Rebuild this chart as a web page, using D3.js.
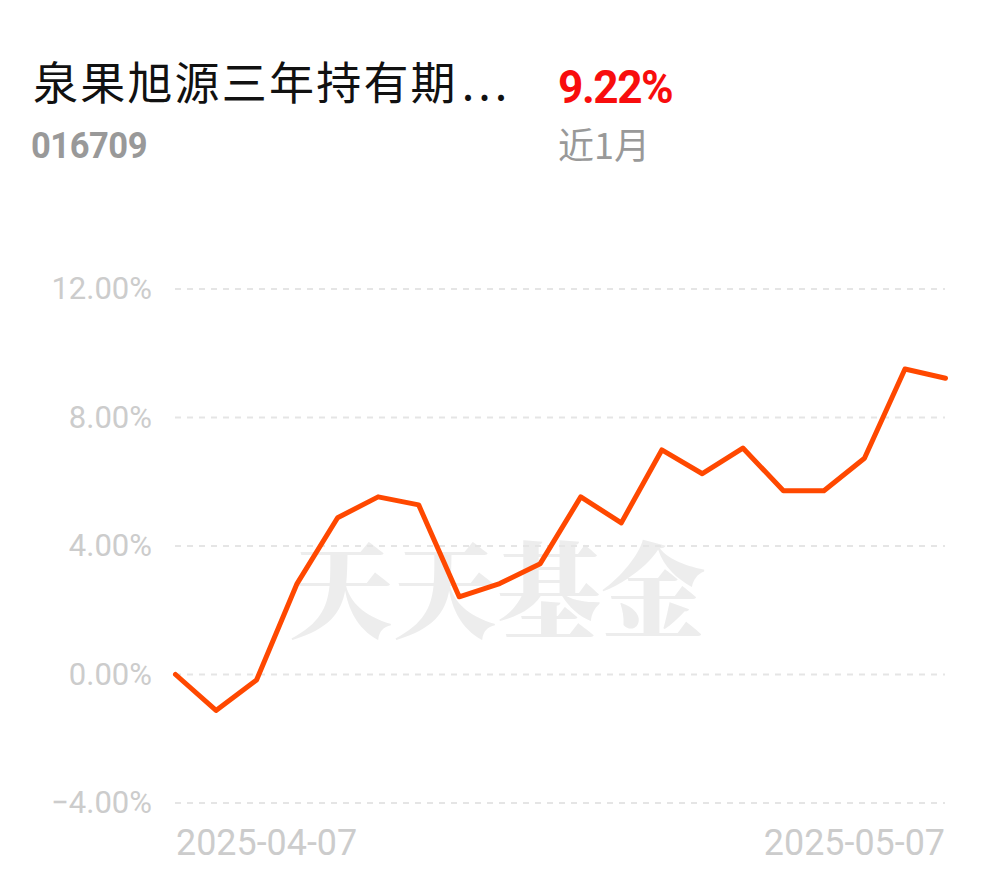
<!DOCTYPE html>
<html><head><meta charset="utf-8">
<script src="https://cdn.jsdelivr.net/npm/d3@7/dist/d3.min.js"></script>
<style>body{margin:0;background:#fff;}svg{display:block;}</style>
</head><body>
<script>
const fundName = "泉果旭源三年持有期";
const fundNameEllipsis = "...";
const fundCode = "016709";
const periodReturn = "9.22%";
const periodLabel = "近1月";
const dates = ["2025-04-07","2025-04-08","2025-04-09","2025-04-10","2025-04-11","2025-04-14","2025-04-15","2025-04-16","2025-04-17","2025-04-18","2025-04-21","2025-04-22","2025-04-23","2025-04-24","2025-04-25","2025-04-28","2025-04-29","2025-04-30","2025-05-06","2025-05-07"];
const values = [0, -1.12, -0.17, 2.83, 4.88, 5.53, 5.28, 2.42, 2.83, 3.45, 5.53, 4.72, 6.99, 6.25, 7.05, 5.72, 5.72, 6.73, 9.51, 9.22];
const yTicks = [-4, 0, 4, 8, 12];
const xTickLabels = ["2025-04-07", "2025-05-07"];

const W = 990, H = 878;
const svg = d3.select("body").append("svg").attr("width", W).attr("height", H);

// header
const title = svg.append("text").attr("x", 33).attr("y", 100).attr("font-family", "Noto Sans CJK SC").attr("font-size", 45).attr("fill", "#111");
title.append("tspan").attr("letter-spacing", 2.2).text(fundName);
title.append("tspan").attr("letter-spacing", 4).attr("dx", 4).text(fundNameEllipsis);
svg.append("text").attr("transform", "translate(558,103) scale(0.96,1)").attr("font-family", "Roboto").attr("font-weight", 700).attr("font-size", 46).attr("fill", "#f80d0d").attr("letter-spacing", -1.5).text(periodReturn);
svg.append("text").attr("transform", "translate(31,158) scale(0.96,1)").attr("font-family", "Roboto").attr("font-weight", 700).attr("font-size", 36).attr("fill", "#999").attr("letter-spacing", -0.5).text(fundCode);
svg.append("text").attr("x", 558).attr("y", 159).attr("font-family", "Noto Sans CJK SC").attr("font-size", 36).attr("fill", "#999").text(periodLabel);

const x = d3.scalePoint().domain(dates).range([175.5, 945.5]);
const y = d3.scaleLinear().domain([-4, 12]).range([803, 289]);

// watermark
svg.append("text").attr("x", 497).attr("y", 630).attr("text-anchor", "middle").attr("font-family", "Noto Serif CJK SC, Noto Sans CJK SC").attr("font-weight", 900).attr("font-size", 104).attr("fill", "#ededed").text("天天基金");

// grid
svg.append("g").selectAll("line").data(yTicks).join("line")
  .attr("x1", 175).attr("x2", 945)
  .attr("y1", d => y(d)).attr("y2", d => y(d))
  .attr("stroke", "#e5e5e5").attr("stroke-width", 2).attr("stroke-dasharray", "6,6");

// y labels
svg.append("g").selectAll("text").data(yTicks).join("text")
  .attr("x", 152).attr("y", d => y(d) + 10)
  .attr("text-anchor", "end").attr("font-family", "Roboto").attr("font-size", 31).attr("fill", "#cccccc")
  .text(d => d3.format(".2f")(d) + "%");

// x labels
svg.append("text").attr("transform", "translate(176,855) scale(0.97,1)").attr("font-family", "Roboto").attr("font-size", 37).attr("fill", "#cccccc").text(xTickLabels[0]);
svg.append("text").attr("transform", "translate(945,855) scale(0.97,1)").attr("text-anchor", "end").attr("font-family", "Roboto").attr("font-size", 37).attr("fill", "#cccccc").text(xTickLabels[1]);

// line
const line = d3.line().x((d, i) => x(dates[i])).y(d => y(d));
svg.append("path").datum(values).attr("d", line).attr("fill", "none")
  .attr("stroke", "#ff4800").attr("stroke-width", 5).attr("stroke-linejoin", "round").attr("stroke-linecap", "round");
</script>
</body></html>
